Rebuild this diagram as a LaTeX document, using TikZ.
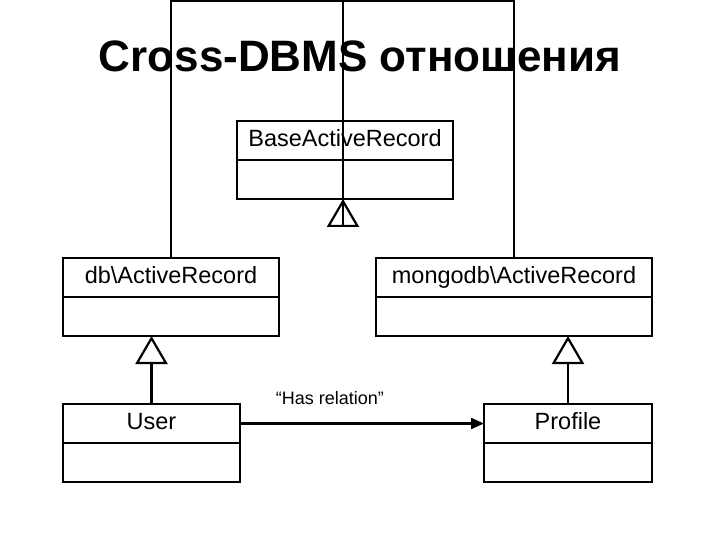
\documentclass[tikz,border=0pt]{standalone}
\usepackage{fontspec}
\setmainfont{Liberation Sans}
\usetikzlibrary{arrows.meta}
\usetikzlibrary{positioning}
\tikzset{head/.style = {draw, line width = 2.2pt, inner sep = 0, outer sep = 0, minimum height = 39pt, text height = 17pt, text depth = 5pt, font = \fontsize{23.5}{26}\selectfont}}
\tikzset{body/.style = {draw, line width = 2.2pt, inner sep = 0, outer sep = 0, minimum height = 39pt}}
\tikzset{link/.style = {line width = 2.2pt}}
\tikzset{gen/.style = {line width = 2.2pt, -{Triangle[open, length = 28pt, width = 32pt]}}}
\tikzset{assoc/.style = {line width = 2.2pt, -{Triangle[length = 13pt, width = 11pt]}}}

\begin{document}
\begin{tikzpicture}[x = 1pt, y = -1pt]
    \useasboundingbox (0, 0) rectangle (720, 540);
    \node [anchor = base, font = \fontsize{44}{48}\selectfont\bfseries] (title) at (360, 72) {Cross-DBMS отношения};

    \node [head, minimum width = 216pt] (base) at (345, 140.5) {BaseActiveRecord};
    \node [body, minimum width = 216pt, below = 0pt of base] (base-b) {};

    \node [head, minimum width = 216pt] (db) at (171, 277.5) {db\textbackslash ActiveRecord};
    \node [body, minimum width = 216pt, below = 0pt of db] (db-b) {};

    \node [head, minimum width = 276pt] (mongo) at (514, 277.5) {mongodb\textbackslash ActiveRecord};
    \node [body, minimum width = 276pt, below = 0pt of mongo] (mongo-b) {};

    \node [head, minimum width = 177pt] (user) at (151.5, 423.5) {User};
    \node [body, minimum width = 177pt, below = 0pt of user] (user-b) {};

    \node [head, minimum width = 168pt] (profile) at (568, 423.5) {Profile};
    \node [body, minimum width = 168pt, below = 0pt of profile] (profile-b) {};

    \coordinate (top) at (343, 1);
    \coordinate (bj) at (343, 227);
    \draw [link] (db.north) |- (top) -| (mongo.north);
    \draw [link] (top) -- (bj);
    \draw [gen] (bj) -- (bj |- base-b.south);

    \draw [gen] (user.north) -- (user.north |- db-b.south);
    \draw [gen] (profile.north) -- (profile.north |- mongo-b.south);

    \draw [assoc] (user.east) -- (profile.west);
    \node [font = \fontsize{18}{20}\selectfont] (rel) at (330, 398) {“Has relation”};
  \end{tikzpicture}
\end{document}
